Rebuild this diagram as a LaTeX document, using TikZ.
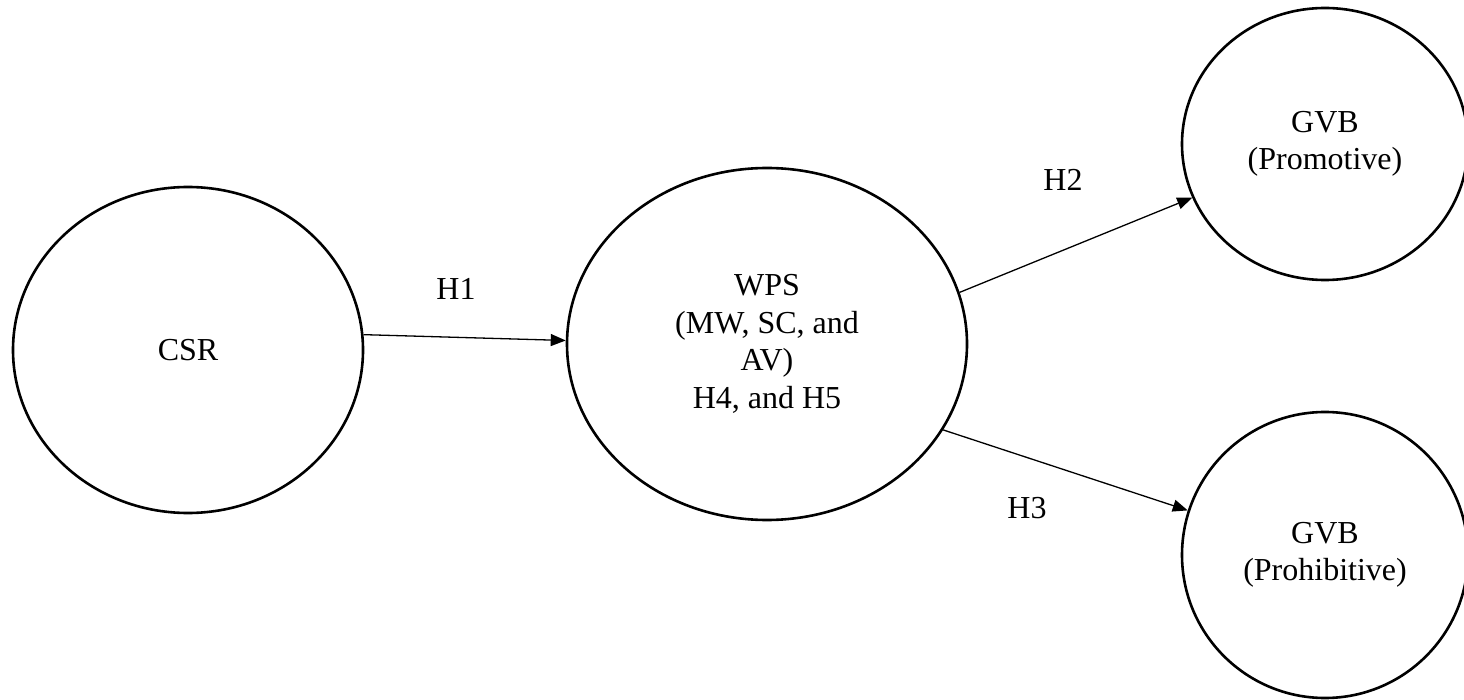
\documentclass[tikz,border=0pt]{standalone}
\usepackage{fontspec}
\setmainfont{Liberation Serif}
\usepackage{tikz}
\usetikzlibrary{
    arrows.meta,
    positioning,
    shapes.geometric
}
\tikzstyle{arrow}=[line width=1.3pt,-{Triangle[length=15pt,width=12pt]}]

\begin{document}
\begin{tikzpicture}[
    x=1pt,y=-1pt,
    every node/.style={font=\fontsize{32}{37.5}\selectfont},
    construct/.style={
        ellipse,
        draw,
        line width=2.6pt,
        inner sep=0pt,
        align=center
    }
]
\useasboundingbox (0,0) rectangle (1464,700);
\node[construct,minimum width=350pt,minimum height=326pt] (csr) at (188,350) {CSR};
\node[construct,minimum width=400pt,minimum height=352pt] (wps) at (767,344) {WPS\\
(MW, SC, and\\
AV)\\
H4, and H5};
\node[construct,minimum width=286pt,minimum height=272pt] (gvbp) at (1325,144) {GVB\\
(Promotive)};
\node[construct,minimum width=286pt,minimum height=286pt] (gvbh) at (1325,555) {GVB\\
(Prohibitive)};
\node (h1) at (456,289) {H1};
\node (h2) at (1063,180) {H2};
\node (h3) at (1027,508) {H3};
\draw[arrow] (csr.5.5) -- (wps.179);
\draw[arrow] (wps.15) -- (gvbp.202);
\draw[arrow] (wps.334.7) -- (gvbh.162.4);
\end{tikzpicture}
\end{document}
